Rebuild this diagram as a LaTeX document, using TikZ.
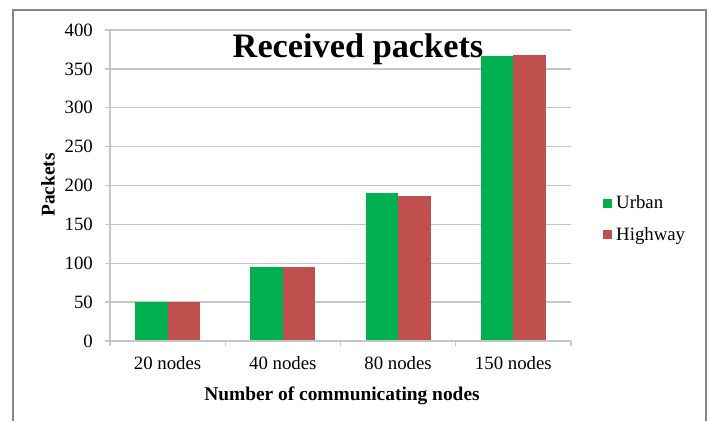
\documentclass[tikz,border=0pt]{standalone}
\usepackage{fontspec}
\setmainfont{Liberation Serif}
\definecolor{urban}{HTML}{00B050}
\definecolor{highway}{HTML}{C0504D}
\definecolor{gridgray}{HTML}{C6C6C6}
\definecolor{framegray}{HTML}{858585}
\tikzset{
  lbl/.style={inner sep=0pt, font=\fontsize{18.8}{20}\selectfont},
  axlbl/.style={inner sep=0pt, font=\fontsize{19.4}{21}\selectfont\bfseries},
  gridline/.style={draw=gridgray, line width=1.4pt},
  keybox/.style={inner sep=0pt, minimum size=9pt}
}
\begin{document}
\begin{tikzpicture}[x=1pt,y=-1pt]
\useasboundingbox (0,0) rectangle (710,421);
\fill[white] (0,0) rectangle (710,421);
% outer chart frame (bottom edge lies below the page)
\draw[framegray, line width=1.3pt] (13,421) -- (13,10) -- (706,10) -- (706,421);

% plot area: origin at the zero line of the value axis
\begin{scope}[shift={(110,341)}, x=1pt, y=0.7775pt]
  \foreach \v in {50,100,...,400}
    \draw[gridline] (-5,\v) -- (461,\v);
  \foreach \v in {0,50,...,400}
    \node[lbl, anchor=east] (ytick\v) at (-17,\v) {\v};
  % bars
  \foreach \i/\u/\h/\lab in {0/50/50/20, 1/95/95/40, 2/190/187/80, 3/366/368/150}{
    \fill[urban] ({115.25*\i+57.6-32.5},0) rectangle ({115.25*\i+57.6},\u);
    \fill[highway] ({115.25*\i+57.6},0) rectangle ({115.25*\i+57.6+32.5},\h);
    \node[lbl] (cat\lab) at ({115.25*\i+57.6},-29) {\lab\ nodes};
  }
  % axes and category ticks
  \draw[gridline] (0,400) -- (0,-6);
  \draw[gridline] (-5,0) -- (461,0);
  \foreach \i in {1,...,4}
    \draw[gridline] ({115.25*\i},0) -- ({115.25*\i},-6);
\end{scope}

% titles
\node[inner sep=0pt, anchor=base, font=\fontsize{34.3}{36}\selectfont\bfseries] (title) at (358,57) {Received packets};
\node[axlbl, rotate=90] (ylab) at (48,185) {Packets};
\node[axlbl, anchor=base] (xlab) at (342,400) {Number of communicating nodes};

% legend
\node[keybox, fill=urban] (keyU) at (607.5,203) {};
\node[lbl, anchor=base west] (legU) at (616,208.5) {Urban};
\node[keybox, fill=highway] (keyH) at (607.5,234) {};
\node[lbl, anchor=base west] (legH) at (616,240) {Highway};
\end{tikzpicture}
\end{document}
